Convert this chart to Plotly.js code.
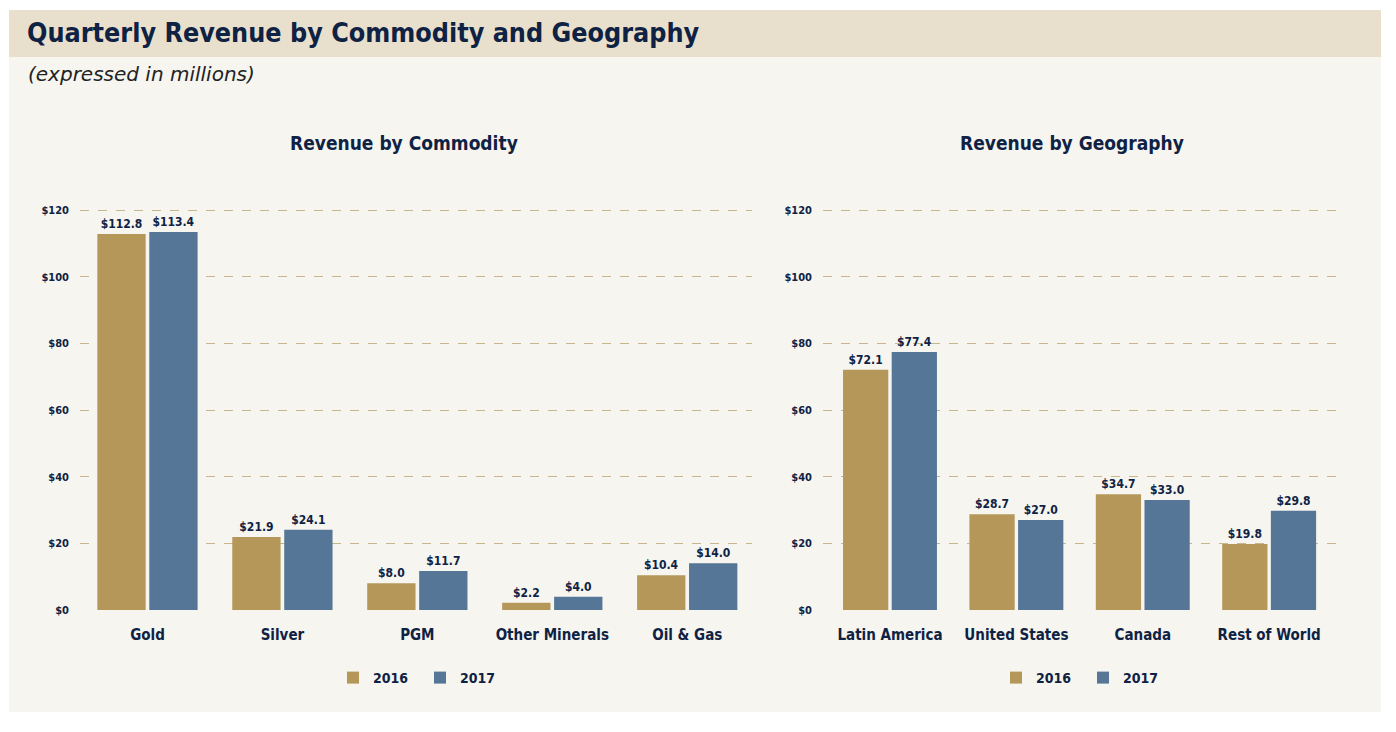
<!DOCTYPE html>
<html>
<head>
<meta charset="utf-8">
<script src="https://cdn.plot.ly/plotly-3.0.1.min.js"></script>
<style>html,body{margin:0;padding:0;background:#fff;}#chart{width:1396px;height:732px;}</style>
</head>
<body>
<div id="chart"></div>
<script>
// ---- data ----
const commodities = ["Gold", "Silver", "PGM", "Other Minerals", "Oil & Gas"];
const commodity2016 = [112.8, 21.9, 8.0, 2.2, 10.4];
const commodity2017 = [113.4, 24.1, 11.7, 4.0, 14.0];
const geographies = ["Latin America", "United States", "Canada", "Rest of World"];
const geography2016 = [72.1, 28.7, 34.7, 19.8];
const geography2017 = [77.4, 27.0, 33.0, 29.8];
const yTickVals = [0, 20, 40, 60, 80, 100, 120];
const yTickText = ["$0", "$20", "$40", "$60", "$80", "$100", "$120"];
const seriesNames = ["2016", "2017"];

// ---- styling ----
const W = 1396, H = 732;
const px = x => x / W;
const py = y => 1 - y / H;
const NAVY = "#0F2244";
const GOLD = "#B5975A";
const BLUE = "#557696";
const COND = "'DejaVu Sans Condensed', 'Liberation Sans Narrow', sans-serif";

function barTrace(x, y, name, color, xa, ya, legend, show) {
  return {
    type: "bar", x: x, y: y, name: name, xaxis: xa, yaxis: ya,
    marker: {color: color},
    text: y.map(v => "$" + v.toFixed(1)),
    textposition: "outside",
    textfont: {family: COND, size: 12, color: NAVY, weight: 700},
    cliponaxis: false,
    legend: legend, showlegend: show,
    hoverinfo: "x+y"
  };
}

const data = [
  barTrace(commodities, commodity2016, seriesNames[0], GOLD, "x", "y", "legend", true),
  barTrace(commodities, commodity2017, seriesNames[1], BLUE, "x", "y", "legend", true),
  barTrace(geographies, geography2016, seriesNames[0], GOLD, "x2", "y2", "legend2", true),
  barTrace(geographies, geography2017, seriesNames[1], BLUE, "x2", "y2", "legend2", true)
];

const yTop = 122;
const yDomTop = py(610 - yTop * 400 / 120);
const yDom = [py(610), yDomTop];

function yAxis(anchor) {
  return {
    domain: yDom, anchor: anchor, range: [0, yTop],
    tickvals: yTickVals, ticktext: yTickText,
    tickfont: {family: COND, size: 11, color: NAVY, weight: 700},
    showgrid: true, gridcolor: "#C9B58C", griddash: "dash", gridwidth: 1,
    zeroline: false, showline: false, ticks: "", ticklabelstandoff: 10,
    fixedrange: true
  };
}
function xAxis(domain, range, anchor) {
  return {
    domain: domain, anchor: anchor, range: range, type: "category",
    tickfont: {family: COND, size: 15, color: NAVY, weight: 700},
    showgrid: false, zeroline: false, showline: false, ticks: "",
    ticklabelstandoff: 14, fixedrange: true
  };
}

const legendBase = {
  orientation: "h", xanchor: "left", yanchor: "middle",
  font: {family: COND, size: 14, color: NAVY, weight: 700},
  bgcolor: "rgba(0,0,0,0)", itemwidth: 30, traceorder: "normal",
  entrywidth: 42, entrywidthmode: "pixels"
};

const layout = {
  width: W, height: H,
  margin: {l: 0, r: 0, t: 0, b: 0},
  paper_bgcolor: "#FFFFFF",
  plot_bgcolor: "rgba(0,0,0,0)",
  barmode: "group", bargap: 0.23, bargroupgap: 0.07,
  showlegend: true,
  xaxis: xAxis([px(80), px(752)], [-0.5, 4.48], "y"),
  yaxis: yAxis("x"),
  xaxis2: xAxis([px(823), px(1345)], [-0.53, 3.6], "y2"),
  yaxis2: yAxis("x2"),
  legend: Object.assign({}, legendBase, {x: px(333), y: py(678)}),
  legend2: Object.assign({}, legendBase, {x: px(996), y: py(678)}),
  shapes: [
    {type: "rect", xref: "paper", yref: "paper", x0: px(9), x1: px(1381), y0: py(712), y1: py(57),
     fillcolor: "#F6F5F0", line: {width: 0}, layer: "below"},
    {type: "rect", xref: "paper", yref: "paper", x0: px(9), x1: px(1381), y0: py(57), y1: py(10),
     fillcolor: "#E8E0CC", line: {width: 0}, layer: "below"}
  ],
  annotations: [
    {text: "<b>Quarterly Revenue by Commodity and Geography</b>", xref: "paper", yref: "paper",
     x: px(25), y: py(33), xanchor: "left", yanchor: "middle", showarrow: false,
     font: {family: "'DejaVu Sans Condensed', 'DejaVu Sans', sans-serif", size: 26.7, color: NAVY}},
    {text: "<i>(expressed in millions)</i>", xref: "paper", yref: "paper",
     x: px(26), y: py(74), xanchor: "left", yanchor: "middle", showarrow: false,
     font: {family: "'DejaVu Sans', sans-serif", size: 20, color: "#222222"}},
    {text: "<b>Revenue by Commodity</b>", xref: "paper", yref: "paper",
     x: px(404), y: py(143), xanchor: "center", yanchor: "middle", showarrow: false,
     font: {family: COND, size: 19, color: NAVY}},
    {text: "<b>Revenue by Geography</b>", xref: "paper", yref: "paper",
     x: px(1072), y: py(143), xanchor: "center", yanchor: "middle", showarrow: false,
     font: {family: COND, size: 19, color: NAVY}}
  ]
};

Plotly.newPlot("chart", data, layout, {displayModeBar: false, staticPlot: true});
</script>
</body>
</html>
